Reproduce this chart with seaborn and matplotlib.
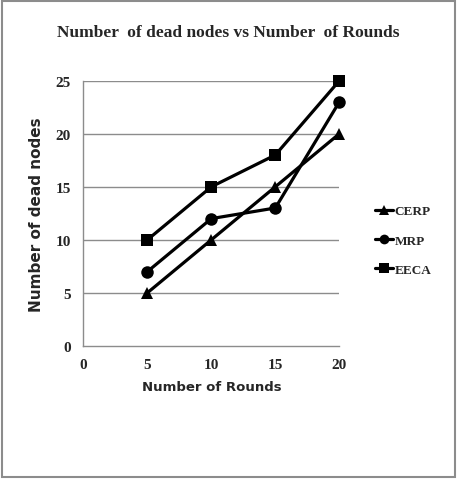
import numpy as np
import pandas as pd
import matplotlib
matplotlib.use('Agg')
import matplotlib.pyplot as plt
from matplotlib.lines import Line2D
from matplotlib.patches import Rectangle
import seaborn as sb

rounds = [5, 10, 15, 20]
cerp = [5, 10, 15, 20]
mrp = [7, 12, 13, 23]
eeca = [10, 15, 18, 25]
series = ['CERP', 'MRP', 'EECA']
markers = {'CERP': '^', 'MRP': 'o', 'EECA': 's'}
x_ticks = [0, 5, 10, 15, 20]
y_ticks = [0, 5, 10, 15, 20, 25]

df = pd.DataFrame({
    'rounds': rounds * 3,
    'dead': cerp + mrp + eeca,
    'protocol': [s for s in series for _ in rounds],
})

sb.set_style('white')
serif = ['Liberation Serif', 'DejaVu Serif']

fig = plt.figure(figsize=(4.61, 4.81), dpi=100)
ax = fig.add_axes([0.181, 0.279, 0.555, 0.551])

for y in y_ticks[1:]:
    ax.axhline(y, color='#8c8c8c', lw=1.0, zorder=0)

sb.lineplot(data=df, x='rounds', y='dead', hue='protocol', style='protocol',
            markers=markers, dashes=False, palette=['black'] * 3,
            linewidth=2.3, markersize=9, markeredgewidth=0, ax=ax,
            legend=False, clip_on=False)

ax.set_xlim(0, 20)
ax.set_ylim(0, 25)
ax.set_xticks(x_ticks)
ax.set_yticks(y_ticks)
ax.set_xticklabels([str(t) for t in x_ticks], family=serif, fontweight='bold', fontsize=11)
ax.set_yticklabels([str(t) for t in y_ticks], family=serif, fontweight='bold', fontsize=11)
ax.tick_params(axis='both', length=4, width=1, color='#8c8c8c', direction='out', pad=5)
for side in ['top', 'right']:
    ax.spines[side].set_visible(False)
for side in ['left', 'bottom']:
    ax.spines[side].set_color('#8c8c8c')
    ax.spines[side].set_linewidth(1.0)

ax.set_xlabel('Number of Rounds', family=['DejaVu Sans'],
              fontweight='bold', fontsize=9.5, labelpad=6)
ax.set_ylabel('Number of dead nodes', family=['DejaVu Sans'], fontweight='bold',
              fontsize=11, labelpad=8)

fig.text(0.495, 0.932, 'Number  of dead nodes vs Number  of Rounds', family=serif,
         fontweight='bold', fontsize=12.5, ha='center', va='center')

handles = [Line2D([], [], color='black', lw=2.3, marker=markers[s], markersize=7,
                  markeredgewidth=0) for s in series]
fig.legend(handles, series, loc='center left', bbox_to_anchor=(0.787, 0.498),
           frameon=False, handlelength=1.4, handletextpad=0.1, labelspacing=1.3,
           prop={'family': serif, 'weight': 'bold', 'size': 9.5})

fig.patches.append(Rectangle((0.005, 0.006), 0.982, 0.99, transform=fig.transFigure,
                             fill=False, edgecolor='#8c8c8c', lw=1.5))

fig.savefig('out.png', dpi=100)
